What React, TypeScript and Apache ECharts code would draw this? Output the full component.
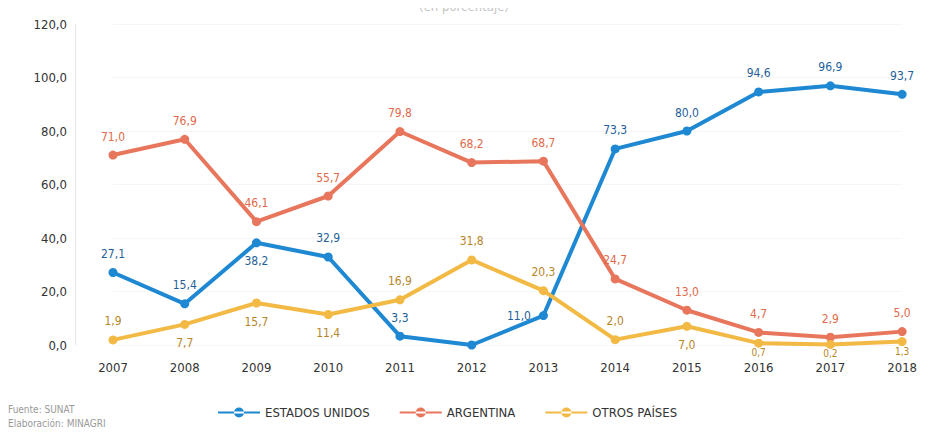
import React, { useEffect, useRef } from "react";
import * as echarts from "echarts";

const years = ["2007", "2008", "2009", "2010", "2011", "2012", "2013", "2014", "2015", "2016", "2017", "2018"];
const estadosUnidos = [27.1, 15.4, 38.2, 32.9, 3.3, 0.0, 11.0, 73.3, 80.0, 94.6, 96.9, 93.7];
const argentina = [71.0, 76.9, 46.1, 55.7, 79.8, 68.2, 68.7, 24.7, 13.0, 4.7, 2.9, 5.0];
const otrosPaises = [1.9, 7.7, 15.7, 11.4, 16.9, 31.8, 20.3, 2.0, 7.0, 0.7, 0.2, 1.3];
const usLabelPos = ["top", "top", "bottom", "top", "top", "none", "left", "top", "top", "top", "top", "top"];
const otrosLabelPos = ["top", "bottom", "bottom", "bottom", "top", "top", "top", "top", "bottom", "bottom", "bottom", "bottom"];

const BLUE = "#1e88d2";
const RED = "#e8765c";
const YELLOW = "#f3b945";
const FONT = "'DejaVu Sans Condensed', 'Liberation Sans', sans-serif";

const fmt = (v: number) => v.toFixed(1).replace(".", ",");

export default function App() {
  const ref = useRef<HTMLDivElement>(null);
  useEffect(() => {
    if (!ref.current) return;
    const chart = echarts.init(ref.current, undefined, { renderer: "svg" });
    const mkData = (vals: number[], pos?: string[]) =>
      vals.map((v, i) => {
        const p = pos ? pos[i] : "top";
        if (p === "none") return { value: v, label: { show: false } };
        const extra: any = { position: p };
        if (i >= 9 && p === "bottom") {
          extra.distance = 0;
          extra.fontSize = 10;
        }
        return { value: v, label: extra };
      });
    const series = (name: string, vals: number[], color: string, labelColor: string, pos?: string[]) => ({
      name,
      type: "line",
      data: mkData(vals, pos),
      symbol: "circle",
      symbolSize: 9,
      lineStyle: { width: 4, color },
      itemStyle: { color },
      label: {
        show: true,
        formatter: (p: any) => fmt(p.value),
        color: labelColor,
        fontFamily: FONT,
        fontSize: 12,
        distance: 8,
      },
    });
    chart.setOption({
      animation: false,
      grid: { left: 105, right: 13, top: 16, bottom: 89 },
      graphic: [
        { type: "text", left: "center", top: -8, style: { text: "(en porcentaje)", fill: "#c4c4c4", font: `13px ${FONT}` } },
        { type: "text", left: 0, top: 396, style: { text: "Fuente: SUNAT", fill: "#999999", font: `10px ${FONT}` } },
        { type: "text", left: 0, top: 410, style: { text: "Elaboración: MINAGRI", fill: "#999999", font: `10px ${FONT}` } },
      ],
      legend: {
        left: 205,
        top: 393,
        itemWidth: 42,
        itemHeight: 12,
        itemGap: 30,
        textStyle: { fontFamily: FONT, fontSize: 13, color: "#333333" },
        data: [
          { name: "ESTADOS UNIDOS", icon: "path://M0,5 L42,5 L42,7 L0,7 Z M21,6 m-5,0 a5,5 0 1,0 10,0 a5,5 0 1,0 -10,0" },
          { name: "ARGENTINA", icon: "path://M0,5 L42,5 L42,7 L0,7 Z M21,6 m-5,0 a5,5 0 1,0 10,0 a5,5 0 1,0 -10,0" },
          { name: "OTROS PAÍSES", icon: "path://M0,5 L42,5 L42,7 L0,7 Z M21,6 m-5,0 a5,5 0 1,0 10,0 a5,5 0 1,0 -10,0" },
        ],
      },
      xAxis: {
        type: "category",
        data: years,
        boundaryGap: false,
        axisLine: { show: false },
        axisTick: { show: false },
        axisLabel: { fontFamily: FONT, fontSize: 13, color: "#333333", margin: 16 },
      },
      yAxis: {
        type: "value",
        min: 0,
        max: 120,
        interval: 20,
        offset: 38,
        axisLine: { show: true, lineStyle: { color: "#e6e6e6", width: 1 } },
        axisTick: { show: false },
        splitLine: { show: true, lineStyle: { color: "#f6f6f6" } },
        axisLabel: { fontFamily: FONT, fontSize: 13, color: "#333333", formatter: (v: number) => fmt(v), margin: 8 },
      },
      series: [
        series("ESTADOS UNIDOS", estadosUnidos, BLUE, "#1f5f9a", usLabelPos),
        series("ARGENTINA", argentina, RED, "#e06a4a"),
        series("OTROS PAÍSES", otrosPaises, YELLOW, "#b8862a", otrosLabelPos),
      ],
    });
    return () => chart.dispose();
  }, []);
  return <div ref={ref} style={{ width: 912, height: 426 }} />;
}
